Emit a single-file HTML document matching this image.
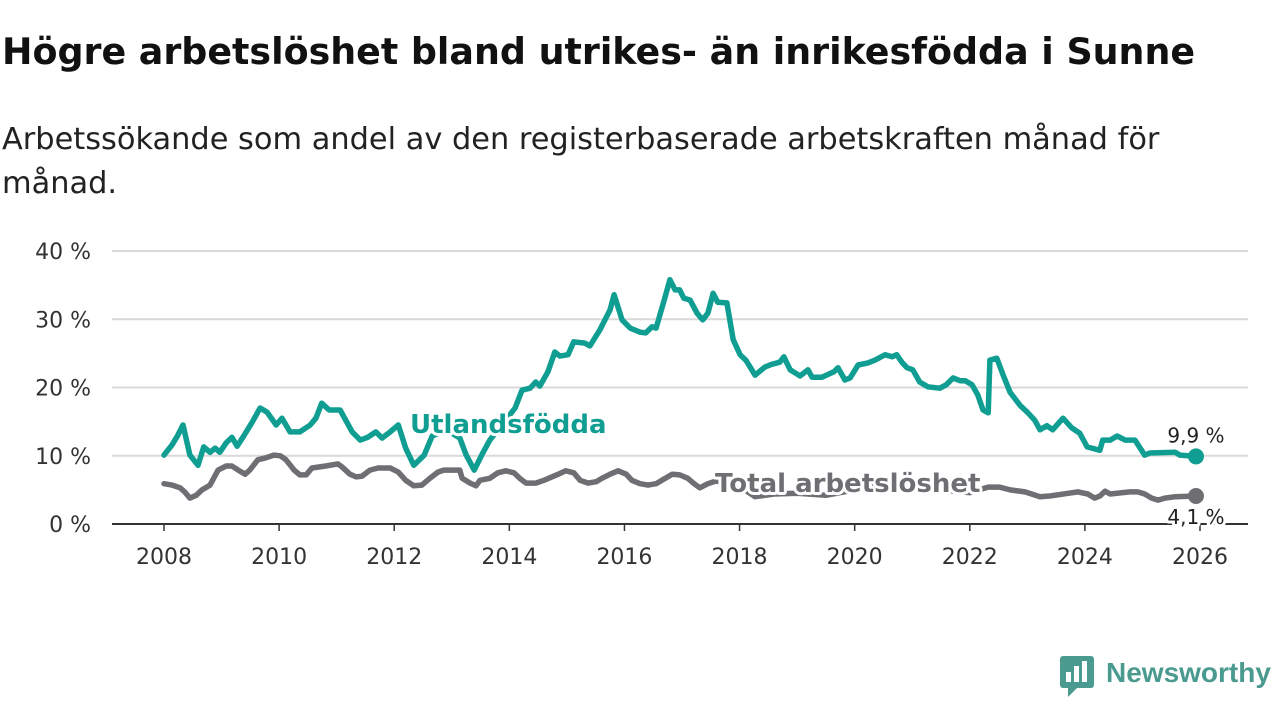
<!DOCTYPE html>
<html><head><meta charset="utf-8"><style>
body{margin:0;width:1280px;height:720px;background:#fff;font-family:"Liberation Sans","DejaVu Sans",sans-serif;overflow:hidden}
</style></head><body>
<svg width="1280" height="720" font-family="'DejaVu Sans','Liberation Sans',sans-serif">
<text x="2" y="64" font-size="36.4" font-weight="bold" fill="#111">Högre arbetslöshet bland utrikes- än inrikesfödda i Sunne</text>
<text x="2" y="149" font-size="30.4" fill="#222">Arbetssökande som andel av den registerbaserade arbetskraften månad för</text>
<text x="2" y="193" font-size="30.4" fill="#222">månad.</text>
<g id="grid"></g><g id="lines"></g><g id="labels"></g>
<g>
<rect x="1060" y="656" width="34" height="32" rx="3" fill="#4a9a8f"/>
<path d="M1068 688 L1068 697 L1077 688 Z" fill="#4a9a8f"/>
<rect x="1066" y="672" width="5" height="10" fill="#fff"/><rect x="1074" y="666" width="5" height="16" fill="#fff"/><rect x="1082" y="661" width="5" height="21" fill="#fff"/>
<text x="1106" y="682" font-size="28" font-weight="bold" fill="#4a9a8f" font-family="'Liberation Sans',sans-serif">Newsworthy</text>
</g>
</svg>
<script>
const yTicks=[0,10,20,30,40];
const xTicks=[2008,2010,2012,2014,2016,2018,2020,2022,2024,2026];
const utlT=[2008.00,2008.14,2008.24,2008.33,2008.45,2008.59,2008.69,2008.80,2008.89,2008.97,2009.08,2009.18,2009.27,2009.37,2009.53,2009.67,2009.79,2009.95,2010.05,2010.19,2010.36,2010.54,2010.64,2010.74,2010.87,2011.06,2011.27,2011.41,2011.54,2011.68,2011.79,2011.93,2012.07,2012.20,2012.34,2012.52,2012.66,2012.90,2013.14,2013.25,2013.39,2013.52,2013.66,2013.87,2014.10,2014.22,2014.36,2014.46,2014.53,2014.67,2014.79,2014.88,2015.02,2015.12,2015.31,2015.40,2015.57,2015.75,2015.82,2015.96,2016.10,2016.27,2016.37,2016.48,2016.55,2016.69,2016.79,2016.88,2016.96,2017.03,2017.14,2017.26,2017.36,2017.45,2017.54,2017.62,2017.78,2017.89,2018.01,2018.11,2018.27,2018.44,2018.56,2018.70,2018.77,2018.88,2019.05,2019.19,2019.26,2019.43,2019.64,2019.71,2019.83,2019.92,2020.06,2020.23,2020.35,2020.53,2020.65,2020.73,2020.82,2020.91,2021.01,2021.13,2021.27,2021.48,2021.59,2021.71,2021.83,2021.92,2022.04,2022.14,2022.23,2022.32,2022.35,2022.47,2022.58,2022.70,2022.87,2023.01,2023.13,2023.22,2023.34,2023.44,2023.62,2023.77,2023.91,2024.04,2024.26,2024.31,2024.44,2024.56,2024.70,2024.87,2025.04,2025.13,2025.57,2025.65,2025.93];
const utlV=[10.1,11.6,13.0,14.5,10.1,8.6,11.3,10.5,11.1,10.5,11.9,12.7,11.4,12.7,14.9,17.0,16.4,14.5,15.5,13.5,13.5,14.5,15.5,17.7,16.7,16.7,13.5,12.3,12.7,13.5,12.6,13.5,14.5,11.1,8.6,10.1,12.9,13.8,12.6,10.1,7.9,10.1,12.3,14.5,17.0,19.6,19.9,20.8,20.2,22.3,25.2,24.6,24.8,26.7,26.5,26.1,28.4,31.4,33.6,29.9,28.7,28.1,28.0,28.9,28.7,32.8,35.8,34.3,34.3,33.1,32.8,30.9,29.9,30.9,33.8,32.5,32.4,27.0,24.8,24.0,21.8,23.0,23.4,23.7,24.5,22.6,21.7,22.6,21.5,21.5,22.3,22.9,21.1,21.4,23.3,23.6,24.0,24.8,24.5,24.8,23.7,22.9,22.6,20.8,20.1,19.9,20.4,21.4,21.0,21.0,20.4,18.9,16.7,16.3,24.0,24.3,21.8,19.3,17.4,16.3,15.2,13.8,14.4,13.8,15.5,14.1,13.3,11.3,10.8,12.3,12.3,12.9,12.3,12.3,10.1,10.4,10.5,10.1,9.9];
const totT=[2008.00,2008.14,2008.28,2008.36,2008.45,2008.56,2008.66,2008.80,2008.94,2009.08,2009.18,2009.29,2009.41,2009.49,2009.63,2009.77,2009.91,2010.02,2010.12,2010.26,2010.36,2010.47,2010.57,2010.81,2011.02,2011.09,2011.23,2011.34,2011.44,2011.58,2011.72,2011.93,2012.07,2012.20,2012.34,2012.48,2012.62,2012.76,2012.86,2013.14,2013.18,2013.32,2013.42,2013.49,2013.66,2013.80,2013.94,2014.08,2014.18,2014.29,2014.46,2014.60,2014.85,2014.98,2015.12,2015.23,2015.37,2015.51,2015.61,2015.75,2015.89,2016.03,2016.13,2016.27,2016.41,2016.55,2016.65,2016.83,2016.96,2017.10,2017.21,2017.31,2017.45,2017.59,2018.0,2018.27,2018.6,2019.0,2019.5,2020.0,2020.5,2021.0,2021.5,2022.0,2022.32,2022.52,2022.70,2022.96,2023.22,2023.39,2023.71,2023.88,2024.05,2024.17,2024.26,2024.35,2024.44,2024.78,2024.92,2025.04,2025.16,2025.27,2025.39,2025.57,2025.93];
const totV=[5.9,5.7,5.3,4.7,3.8,4.2,5.0,5.7,7.9,8.5,8.5,7.9,7.3,7.9,9.4,9.7,10.1,10.0,9.4,7.9,7.2,7.2,8.2,8.5,8.8,8.4,7.3,6.9,7.0,7.9,8.2,8.2,7.6,6.4,5.6,5.7,6.7,7.6,7.9,7.9,6.7,6.0,5.6,6.4,6.7,7.5,7.8,7.5,6.7,6.0,6.0,6.4,7.3,7.8,7.5,6.4,6.0,6.2,6.7,7.3,7.8,7.3,6.4,5.9,5.7,5.9,6.4,7.3,7.2,6.7,5.9,5.3,5.9,6.3,5.5,4.0,4.4,4.5,4.2,5.0,6.2,5.8,5.0,4.6,5.4,5.4,5.0,4.7,4.0,4.1,4.5,4.7,4.4,3.8,4.1,4.8,4.4,4.7,4.7,4.4,3.8,3.5,3.8,4.0,4.1];
const NS="http://www.w3.org/2000/svg";
const X=t=>164+(t-2008)*(1036/18);
const Y=v=>524-v*(273/40);
function mk(tag,attrs,parent,text){const e=document.createElementNS(NS,tag);for(const k in attrs)e.setAttribute(k,attrs[k]);if(text!==undefined)e.textContent=text;document.getElementById(parent).appendChild(e);return e;}
yTicks.forEach(v=>{
  if(v>0){const g=mk('line',{x1:112,x2:1248,y1:Y(v),y2:Y(v),stroke:'#d9d9d9','stroke-width':2},'grid');
  
  }
  const t=mk('text',{x:91,y:Y(v)+8,'font-size':22,fill:'#333','text-anchor':'end'},'grid',v+' %');
  
  
});
xTicks.forEach(y=>{
  const l=mk('line',{x1:X(y),x2:X(y),y1:524,y2:531,stroke:'#333','stroke-width':1.5},'grid');
  
  
  const t=mk('text',{x:X(y),y:564,'font-size':22,fill:'#333','text-anchor':'middle'},'grid',String(y));
  
  
});
const ax=mk('line',{x1:112,x2:1248,y1:524,y2:524,stroke:'#333','stroke-width':2},'grid');


function series(T,V,col,name){
  const d=T.map((t,i)=>(i?'L':'M')+X(t).toFixed(1)+' '+Y(V[i]).toFixed(1)).join(' ');
  const p=mk('path',{d:d,fill:'none',stroke:col,'stroke-width':5.5,'stroke-linejoin':'round','stroke-linecap':'round'},'lines');
  
  
  const n=T.length-1;
  const c=mk('circle',{cx:X(T[n]),cy:Y(V[n]),r:8,fill:col},'lines');
  
  
}
series(totT,totV,'#6f6e73','total');
series(utlT,utlV,'#109e92','utlandsfodda');
function lab(x,y,txt,size,col,w,anchor,name){
  const t=mk('text',{x:x,y:y,'font-size':size,'font-weight':w,fill:col,'text-anchor':anchor,stroke:'#fff','stroke-width':6,'paint-order':'stroke','stroke-linejoin':'round'},'labels',txt);
  
  
}
lab(410,433,'Utlandsfödda',26,'#109e92','bold','start','utlandsfodda-label');
lab(715,492,'Total arbetslöshet',26,'#6f6e73','bold','start','total-label');
lab(X(utlT[utlT.length-1]),Y(utlV[utlV.length-1])-14,'9,9 %',20,'#222','normal','middle','utlandsfodda-value-label');
lab(X(totT[totT.length-1]),Y(totV[totV.length-1])+28,'4,1 %',20,'#222','normal','middle','total-value-label');
</script>
</body></html>
